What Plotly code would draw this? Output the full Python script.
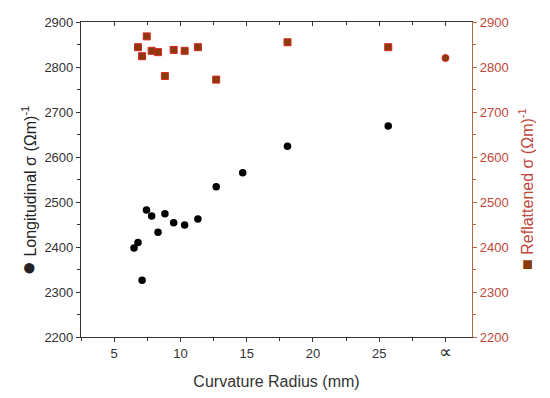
import plotly.graph_objects as go

# Data
x_longitudinal = [6.50, 6.80, 7.11, 7.44, 7.83, 8.31, 8.83, 9.49, 10.32, 11.32, 12.70, 14.70, 18.08, 25.68]
y_longitudinal = [2398, 2410, 2326, 2482, 2469, 2433, 2474, 2454, 2449, 2462, 2534, 2565, 2624, 2669]

x_reflattened = [6.80, 7.11, 7.46, 7.83, 8.31, 8.83, 9.49, 10.32, 11.32, 12.70, 18.08, 25.68, 30.0]
y_reflattened = [2844, 2824, 2868, 2836, 2833, 2780, 2838, 2836, 2844, 2772, 2855, 2844, 2820]

x_tick_vals = [5, 10, 15, 20, 25, 30]
x_tick_text = ["5", "10", "15", "20", "25", '<span style="font-size:18px">\u221d</span>']
y_tick_vals = [2200, 2300, 2400, 2500, 2600, 2700, 2800, 2900]

RED_TXT = "#c0463a"
RED_LINE = "#b5693e"
FONT = "Liberation Sans, Arial, sans-serif"
AX_COL = "#333333"

fig = go.Figure()

fig.add_trace(go.Scatter(
    x=x_longitudinal, y=y_longitudinal, mode="markers",
    marker=dict(symbol="circle", size=7.5, color="black", line=dict(width=0)),
    showlegend=False, yaxis="y", xaxis="x"))

sym = ["square"] * (len(x_reflattened) - 1) + ["circle"]
fig.add_trace(go.Scatter(
    x=x_reflattened, y=y_reflattened, mode="markers",
    marker=dict(symbol=sym, size=7, color="#8b3a0e", line=dict(width=1, color="#d8261e")),
    showlegend=False, yaxis="y2", xaxis="x"))

# invisible trace to anchor the top mirror axis
fig.add_trace(go.Scatter(x=[], y=[], xaxis="x2", yaxis="y", showlegend=False))

common_x = dict(range=[2.5, 32], showgrid=False, zeroline=False, automargin=False)

# page body has an 8px default margin; figure size/margins compensate for it
fig.update_layout(
    width=534, height=382,
    margin=dict(l=73, r=70, t=14, b=53, autoexpand=False),
    paper_bgcolor="white", plot_bgcolor="white",
    font=dict(family=FONT, size=13, color=AX_COL),
    xaxis=dict(**common_x, showline=True, linecolor=AX_COL, linewidth=1.2,
               ticks="outside", ticklen=4, tickcolor=AX_COL,
               tickvals=x_tick_vals, ticktext=x_tick_text,
               tickfont=dict(size=13, color=AX_COL),
               minor=dict(dtick=2.5, tick0=2.5, ticks="outside", ticklen=2.5, tickcolor=AX_COL),
               title=dict(text="Curvature Radius (mm)", font=dict(size=16, color=AX_COL), standoff=15)),
    xaxis2=dict(**common_x, overlaying="x", side="top", anchor="y", showline=True,
                linecolor=AX_COL, linewidth=1.2, ticks="inside", ticklen=4, tickcolor=AX_COL,
                tickvals=x_tick_vals, showticklabels=False,
                minor=dict(dtick=2.5, tick0=2.5, ticks="inside", ticklen=2.5, tickcolor=AX_COL)),
    yaxis=dict(range=[2200, 2900], showgrid=False, zeroline=False, showline=True, automargin=False,
               linecolor=AX_COL, linewidth=1.2, ticks="outside", ticklen=4, tickcolor=AX_COL,
               tickvals=y_tick_vals, tickfont=dict(size=13, color=AX_COL),
               minor=dict(dtick=50, tick0=2200, ticks="outside", ticklen=2.5, tickcolor=AX_COL)),
    yaxis2=dict(range=[2200, 2900], overlaying="y", side="right", anchor="x", automargin=False,
                showgrid=False, zeroline=False, showline=True,
                linecolor=RED_LINE, linewidth=1.2, ticks="outside", ticklen=4, tickcolor=RED_LINE,
                tickvals=y_tick_vals, tickfont=dict(size=13, color=RED_TXT),
                minor=dict(dtick=50, tick0=2200, ticks="outside", ticklen=2.5, tickcolor=RED_LINE)),
    annotations=[
        dict(xref="paper", yref="paper", x=-0.138, y=0.465, textangle=-90, showarrow=False,
             xanchor="center", yanchor="middle",
             text='<span style="font-size:24px">\u25cf</span> Longitudinal \u03c3 (\u03a9m)<sup>-1</sup>',
             font=dict(size=16, color="#222222", family=FONT)),
        dict(xref="paper", yref="paper", x=1.141, y=0.47, textangle=-90, showarrow=False,
             xanchor="center", yanchor="middle",
             text='<span style="color:#8b3a0e;font-size:18px">\u25a0</span> Reflattened \u03c3 (\u03a9m)<sup>-1</sup>',
             font=dict(size=16, color=RED_TXT, family=FONT)),
    ],
)

fig.write_html("out.html")
